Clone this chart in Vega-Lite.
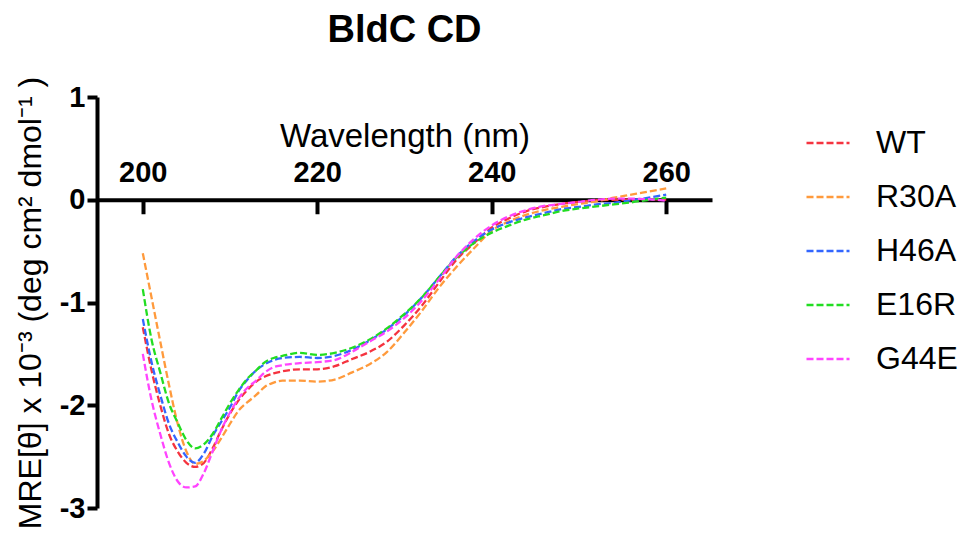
{
  "$schema": "https://vega.github.io/schema/vega-lite/v6.json",
  "width": 615,
  "height": 411,
  "autosize": {"type": "none"},
  "padding": {"left": 97, "top": 97, "right": 252, "bottom": 30},
  "background": "white",
  "config": {
    "view": {"stroke": null},
    "font": "Liberation Sans"
  },
  "title": {
    "text": "BldC CD",
    "font": "Liberation Sans",
    "fontSize": 38,
    "fontWeight": "bold",
    "color": "black",
    "anchor": "middle",
    "offset": 26
  },
  "data": {
    "values": [
      {"w":200,"s":"WT","v":-1.24},{"w":201,"s":"WT","v":-1.66},{"w":202,"s":"WT","v":-2.0},{"w":203,"s":"WT","v":-2.28},{"w":204,"s":"WT","v":-2.45},{"w":205,"s":"WT","v":-2.56},{"w":206,"s":"WT","v":-2.6},{"w":207,"s":"WT","v":-2.56},{"w":208,"s":"WT","v":-2.42},{"w":209,"s":"WT","v":-2.24},{"w":210,"s":"WT","v":-2.08},{"w":211,"s":"WT","v":-1.95},{"w":212,"s":"WT","v":-1.85},{"w":213,"s":"WT","v":-1.77},{"w":214,"s":"WT","v":-1.72},{"w":215,"s":"WT","v":-1.69},{"w":216,"s":"WT","v":-1.67},{"w":218,"s":"WT","v":-1.65},{"w":220,"s":"WT","v":-1.65},{"w":222,"s":"WT","v":-1.62},{"w":224,"s":"WT","v":-1.55},{"w":226,"s":"WT","v":-1.48},{"w":228,"s":"WT","v":-1.38},{"w":230,"s":"WT","v":-1.22},{"w":232,"s":"WT","v":-1.03},{"w":234,"s":"WT","v":-0.8},{"w":236,"s":"WT","v":-0.58},{"w":238,"s":"WT","v":-0.42},{"w":240,"s":"WT","v":-0.27},{"w":242,"s":"WT","v":-0.18},{"w":244,"s":"WT","v":-0.11},{"w":246,"s":"WT","v":-0.07},{"w":248,"s":"WT","v":-0.04},{"w":250,"s":"WT","v":-0.02},{"w":252,"s":"WT","v":-0.005},{"w":254,"s":"WT","v":0.0},{"w":256,"s":"WT","v":0.0},{"w":258,"s":"WT","v":0.005},{"w":260,"s":"WT","v":0.0},
      {"w":200,"s":"R30A","v":-0.52},{"w":201,"s":"R30A","v":-0.95},{"w":202,"s":"R30A","v":-1.38},{"w":203,"s":"R30A","v":-1.8},{"w":204,"s":"R30A","v":-2.18},{"w":205,"s":"R30A","v":-2.45},{"w":206,"s":"R30A","v":-2.57},{"w":207,"s":"R30A","v":-2.54},{"w":208,"s":"R30A","v":-2.45},{"w":209,"s":"R30A","v":-2.32},{"w":210,"s":"R30A","v":-2.18},{"w":211,"s":"R30A","v":-2.05},{"w":212,"s":"R30A","v":-1.97},{"w":213,"s":"R30A","v":-1.9},{"w":214,"s":"R30A","v":-1.82},{"w":215,"s":"R30A","v":-1.78},{"w":216,"s":"R30A","v":-1.76},{"w":218,"s":"R30A","v":-1.76},{"w":220,"s":"R30A","v":-1.77},{"w":222,"s":"R30A","v":-1.75},{"w":224,"s":"R30A","v":-1.68},{"w":226,"s":"R30A","v":-1.6},{"w":228,"s":"R30A","v":-1.48},{"w":230,"s":"R30A","v":-1.29},{"w":232,"s":"R30A","v":-1.08},{"w":234,"s":"R30A","v":-0.85},{"w":236,"s":"R30A","v":-0.65},{"w":238,"s":"R30A","v":-0.47},{"w":240,"s":"R30A","v":-0.3},{"w":242,"s":"R30A","v":-0.21},{"w":244,"s":"R30A","v":-0.145},{"w":246,"s":"R30A","v":-0.1},{"w":248,"s":"R30A","v":-0.07},{"w":250,"s":"R30A","v":-0.04},{"w":252,"s":"R30A","v":-0.015},{"w":254,"s":"R30A","v":0.02},{"w":256,"s":"R30A","v":0.05},{"w":258,"s":"R30A","v":0.08},{"w":260,"s":"R30A","v":0.11},
      {"w":200,"s":"H46A","v":-1.16},{"w":201,"s":"H46A","v":-1.58},{"w":202,"s":"H46A","v":-1.9},{"w":203,"s":"H46A","v":-2.18},{"w":204,"s":"H46A","v":-2.36},{"w":205,"s":"H46A","v":-2.5},{"w":206,"s":"H46A","v":-2.56},{"w":207,"s":"H46A","v":-2.47},{"w":208,"s":"H46A","v":-2.3},{"w":209,"s":"H46A","v":-2.16},{"w":210,"s":"H46A","v":-2.02},{"w":211,"s":"H46A","v":-1.86},{"w":212,"s":"H46A","v":-1.75},{"w":213,"s":"H46A","v":-1.66},{"w":214,"s":"H46A","v":-1.6},{"w":215,"s":"H46A","v":-1.56},{"w":216,"s":"H46A","v":-1.54},{"w":218,"s":"H46A","v":-1.53},{"w":220,"s":"H46A","v":-1.54},{"w":222,"s":"H46A","v":-1.52},{"w":224,"s":"H46A","v":-1.46},{"w":226,"s":"H46A","v":-1.37},{"w":228,"s":"H46A","v":-1.26},{"w":230,"s":"H46A","v":-1.12},{"w":232,"s":"H46A","v":-0.95},{"w":234,"s":"H46A","v":-0.75},{"w":236,"s":"H46A","v":-0.55},{"w":238,"s":"H46A","v":-0.4},{"w":240,"s":"H46A","v":-0.29},{"w":242,"s":"H46A","v":-0.22},{"w":244,"s":"H46A","v":-0.17},{"w":246,"s":"H46A","v":-0.13},{"w":248,"s":"H46A","v":-0.09},{"w":250,"s":"H46A","v":-0.07},{"w":252,"s":"H46A","v":-0.045},{"w":254,"s":"H46A","v":-0.03},{"w":256,"s":"H46A","v":-0.005},{"w":258,"s":"H46A","v":0.02},{"w":260,"s":"H46A","v":0.05},
      {"w":200,"s":"E16R","v":-0.87},{"w":201,"s":"E16R","v":-1.36},{"w":202,"s":"E16R","v":-1.68},{"w":203,"s":"E16R","v":-1.98},{"w":204,"s":"E16R","v":-2.17},{"w":205,"s":"E16R","v":-2.34},{"w":206,"s":"E16R","v":-2.42},{"w":207,"s":"E16R","v":-2.38},{"w":208,"s":"E16R","v":-2.28},{"w":209,"s":"E16R","v":-2.13},{"w":210,"s":"E16R","v":-1.98},{"w":211,"s":"E16R","v":-1.85},{"w":212,"s":"E16R","v":-1.74},{"w":213,"s":"E16R","v":-1.66},{"w":214,"s":"E16R","v":-1.58},{"w":215,"s":"E16R","v":-1.54},{"w":216,"s":"E16R","v":-1.52},{"w":218,"s":"E16R","v":-1.49},{"w":220,"s":"E16R","v":-1.51},{"w":222,"s":"E16R","v":-1.49},{"w":224,"s":"E16R","v":-1.44},{"w":226,"s":"E16R","v":-1.36},{"w":228,"s":"E16R","v":-1.25},{"w":230,"s":"E16R","v":-1.11},{"w":232,"s":"E16R","v":-0.95},{"w":234,"s":"E16R","v":-0.75},{"w":236,"s":"E16R","v":-0.56},{"w":238,"s":"E16R","v":-0.42},{"w":240,"s":"E16R","v":-0.32},{"w":242,"s":"E16R","v":-0.25},{"w":244,"s":"E16R","v":-0.19},{"w":246,"s":"E16R","v":-0.15},{"w":248,"s":"E16R","v":-0.11},{"w":250,"s":"E16R","v":-0.085},{"w":252,"s":"E16R","v":-0.065},{"w":254,"s":"E16R","v":-0.045},{"w":256,"s":"E16R","v":-0.025},{"w":258,"s":"E16R","v":0.0},{"w":260,"s":"E16R","v":0.02},
      {"w":200,"s":"G44E","v":-1.5},{"w":201,"s":"G44E","v":-1.95},{"w":202,"s":"G44E","v":-2.28},{"w":203,"s":"G44E","v":-2.56},{"w":204,"s":"G44E","v":-2.74},{"w":205,"s":"G44E","v":-2.8},{"w":206,"s":"G44E","v":-2.79},{"w":207,"s":"G44E","v":-2.66},{"w":208,"s":"G44E","v":-2.45},{"w":209,"s":"G44E","v":-2.24},{"w":210,"s":"G44E","v":-2.07},{"w":211,"s":"G44E","v":-1.93},{"w":212,"s":"G44E","v":-1.83},{"w":213,"s":"G44E","v":-1.76},{"w":214,"s":"G44E","v":-1.68},{"w":215,"s":"G44E","v":-1.63},{"w":216,"s":"G44E","v":-1.61},{"w":218,"s":"G44E","v":-1.59},{"w":220,"s":"G44E","v":-1.58},{"w":222,"s":"G44E","v":-1.56},{"w":224,"s":"G44E","v":-1.48},{"w":226,"s":"G44E","v":-1.38},{"w":228,"s":"G44E","v":-1.28},{"w":230,"s":"G44E","v":-1.15},{"w":232,"s":"G44E","v":-0.98},{"w":234,"s":"G44E","v":-0.77},{"w":236,"s":"G44E","v":-0.55},{"w":238,"s":"G44E","v":-0.38},{"w":240,"s":"G44E","v":-0.25},{"w":242,"s":"G44E","v":-0.16},{"w":244,"s":"G44E","v":-0.1},{"w":246,"s":"G44E","v":-0.06},{"w":248,"s":"G44E","v":-0.04},{"w":250,"s":"G44E","v":-0.02},{"w":252,"s":"G44E","v":0.0},{"w":254,"s":"G44E","v":0.01},{"w":256,"s":"G44E","v":0.01},{"w":258,"s":"G44E","v":0.005},{"w":260,"s":"G44E","v":-0.01}
    ]
  },
  "mark": {"type": "line", "strokeWidth": 2.3, "strokeDash": [7, 3], "interpolate": "monotone", "clip": false},
  "encoding": {
    "x": {
      "field": "w", "type": "quantitative",
      "scale": {"domain": [194.75, 265.25], "nice": false, "zero": false},
      "axis": {
        "orient": "top",
        "offset": -102.75,
        "values": [200, 220, 240, 260],
        "grid": false,
        "title": "Wavelength (nm)",
        "titleFont": "Liberation Sans",
        "titleFontSize": 33,
        "titleFontWeight": "normal",
        "titleColor": "black",
        "titlePadding": 5,
        "labelFont": "Liberation Sans",
        "labelFontSize": 29,
        "labelFontWeight": "bold",
        "labelColor": "black",
        "labelPadding": 26,
        "labelFlush": false,
        "tickSize": -14,
        "tickWidth": 4,
        "tickColor": "black",
        "domainWidth": 4,
        "domainColor": "black"
      }
    },
    "y": {
      "field": "v", "type": "quantitative",
      "scale": {"domain": [-3, 1], "nice": false, "zero": false},
      "axis": {
        "values": [-3, -2, -1, 0, 1],
        "labelExpr": "datum.value + ''",
        "grid": false,
        "title": "MRE[θ] x 10⁻³ (deg cm² dmol⁻¹ )",
        "titleFont": "Liberation Sans",
        "titleFontSize": 32,
        "titleFontWeight": "normal",
        "titleColor": "black",
        "titlePadding": 12,
        "labelFont": "Liberation Sans",
        "labelFontSize": 29,
        "labelFontWeight": "bold",
        "labelColor": "black",
        "labelPadding": 2,
        "tickSize": 10,
        "tickWidth": 4,
        "tickColor": "black",
        "domainWidth": 4,
        "domainColor": "black"
      }
    },
    "color": {
      "field": "s", "type": "nominal",
      "scale": {
        "domain": ["WT", "R30A", "H46A", "E16R", "G44E"],
        "range": ["#f5333f", "#ff9a3c", "#3366ff", "#22dd22", "#ff44ff"]
      },
      "legend": {
        "orient": "none",
        "legendX": 708,
        "legendY": 23,
        "title": null,
        "symbolType": "stroke",
        "symbolStrokeWidth": 2.3,
        "symbolDash": [7, 3],
        "symbolSize": 1849,
        "labelFont": "Liberation Sans",
        "labelFontSize": 32,
        "labelColor": "black",
        "labelOffset": 25,
        "rowPadding": 15
      }
    }
  }
}
